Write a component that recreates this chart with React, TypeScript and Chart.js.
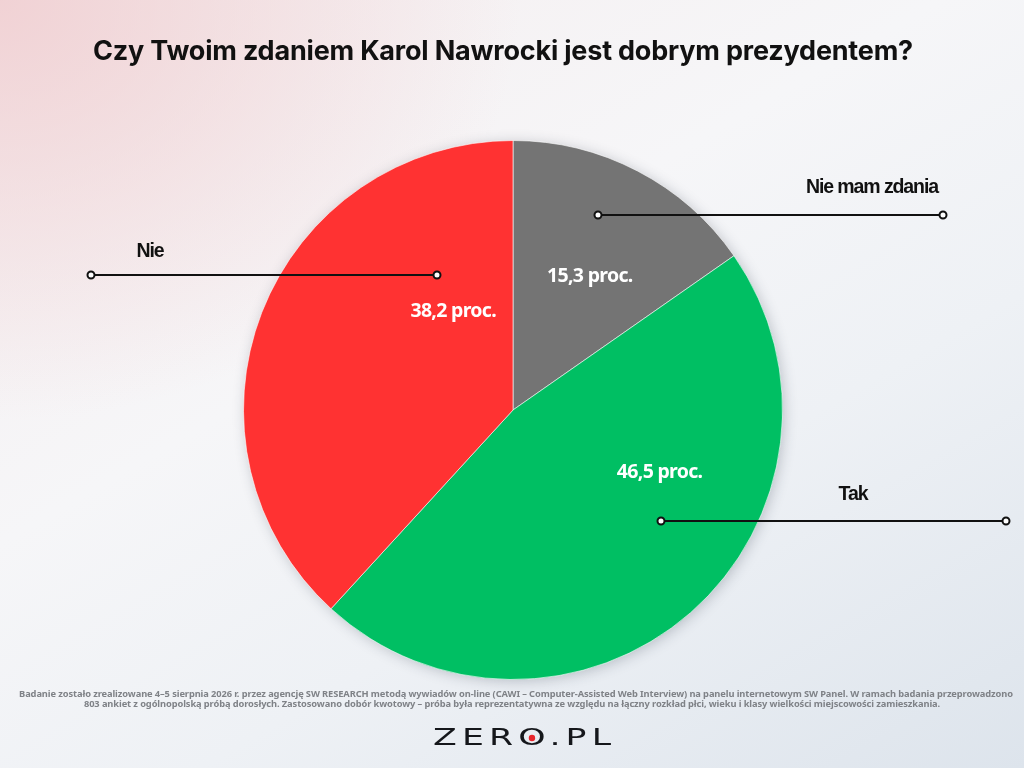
import React, { useEffect, useRef } from "react";
import { Chart, registerables } from "chart.js";

Chart.register(...registerables);

const title = "Czy Twoim zdaniem Karol Nawrocki jest dobrym prezydentem?";
const categories = ["Nie mam zdania", "Tak", "Nie"];
const values = [15.3, 46.5, 38.2];
const valueLabels = values.map((v) => v.toFixed(1).replace(".", ",") + " proc.");
const colors = ["#747474", "#00BF63", "#FF3232"];
const footerLines = [
  "Badanie zostało zrealizowane 4–5 sierpnia 2026 r. przez agencję SW RESEARCH metodą wywiadów on-line (CAWI – Computer-Assisted Web Interview) na panelu internetowym SW Panel. W ramach badania przeprowadzono",
  "803 ankiet z ogólnopolską próbą dorosłych. Zastosowano dobór kwotowy – próba była reprezentatywna ze względu na łączny rozkład płci, wieku i klasy wielkości miejscowości zamieszkania.",
];

// layout (style) config: offsets relative to pie centre
const valueLabelPos = [
  { x: 0.285, y: -0.496 },
  { x: 0.544, y: 0.23 },
  { x: -0.222, y: -0.367 },
];
const leaders = [
  { x1: 85, x2: 430, y: -195, lx: 359, ly: -222 },
  { x1: 148, x2: 493, y: 111, lx: 340, ly: 85 },
  { x1: -422, x2: -76, y: -135, lx: -363, ly: -158 },
];

const overlayPlugin = {
  id: "overlay",
  beforeDatasetsDraw(chart: any) {
    const meta = chart.getDatasetMeta(0);
    const arc = meta.data[0];
    if (!arc) return;
    const { x, y, outerRadius } = arc.getProps(["x", "y", "outerRadius"], true);
    const ctx = chart.ctx;
    ctx.save();
    ctx.shadowColor = "rgba(40,50,70,0.28)";
    ctx.shadowBlur = 14;
    ctx.shadowOffsetX = 2;
    ctx.shadowOffsetY = 2;
    ctx.beginPath();
    ctx.arc(x, y, outerRadius - 1, 0, Math.PI * 2);
    ctx.fillStyle = "#888";
    ctx.fill();
    ctx.restore();
  },
  afterDraw(chart: any) {
    const ctx = chart.ctx as CanvasRenderingContext2D;
    const meta = chart.getDatasetMeta(0);
    const arc = meta.data[0];
    if (!arc) return;
    const { x: cx, y: cy, outerRadius: R } = arc.getProps(["x", "y", "outerRadius"], true);
    const W = chart.width;

    ctx.save();
    // title
    ctx.fillStyle = "#111111";
    ctx.textAlign = "center";
    ctx.textBaseline = "middle";
    ctx.font = "700 27px Inter, 'Noto Sans', sans-serif";
    (ctx as any).letterSpacing = "-0.2px";
    ctx.fillText(title, 503, 52);

    // value labels
    ctx.fillStyle = "#ffffff";
    ctx.font = "700 19.5px 'Noto Sans', Inter, sans-serif";
    (ctx as any).letterSpacing = "-0.7px";
    valueLabels.forEach((t, i) => {
      const p = valueLabelPos[i];
      ctx.fillText(t, cx + p.x * R, cy + p.y * R);
    });

    // leader lines and category labels
    leaders.forEach((l, i) => {
      const y = cy + l.y;
      ctx.beginPath();
      ctx.moveTo(cx + l.x1, y);
      ctx.lineTo(cx + l.x2, y);
      ctx.strokeStyle = "#111111";
      ctx.lineWidth = 2;
      ctx.stroke();
      [l.x1, l.x2].forEach((xx) => {
        ctx.beginPath();
        ctx.arc(cx + xx, y, 3.5, 0, Math.PI * 2);
        ctx.fillStyle = "#ffffff";
        ctx.fill();
        ctx.lineWidth = 2;
        ctx.stroke();
      });
      ctx.fillStyle = "#111111";
      ctx.font = "700 19.5px 'Liberation Sans', Arial, sans-serif";
      (ctx as any).letterSpacing = "-1.1px";
      ctx.fillText(categories[i], cx + l.lx, cy + l.ly);
    });

    // footer
    ctx.fillStyle = "#7f8287";
    ctx.font = "700 9.3px 'Noto Sans', sans-serif";
    (ctx as any).letterSpacing = "-0.1px";
    footerLines.forEach((t, i) => {
      ctx.fillText(t, W / 2 + (i === 0 ? 4 : 0), 694 + i * 10);
    });

    // logo
    ctx.textAlign = "left";
    (ctx as any).letterSpacing = "4px";
    ctx.font = "400 27px 'DejaVu Sans', sans-serif";
    ctx.fillStyle = "#15171b";
    const logo = "ZERO.PL";
    const lw = ctx.measureText(logo).width - 4;
    const sx = 178 / lw;
    const left = 433;
    const wZER = ctx.measureText("ZER").width;
    const wO = ctx.measureText("O").width - 4;
    ctx.save();
    ctx.translate(left, 739);
    ctx.scale(sx, 0.82);
    ctx.fillText(logo, 0, 0);
    ctx.restore();
    ctx.beginPath();
    ctx.arc(left + (wZER + wO / 2) * sx, 738, 3.2, 0, Math.PI * 2);
    ctx.fillStyle = "#e8262c";
    ctx.fill();
    ctx.restore();
  },
};

export default function App() {
  const ref = useRef<HTMLCanvasElement | null>(null);
  useEffect(() => {
    if (!ref.current) return;
    const chart = new Chart(ref.current, {
      type: "pie",
      data: {
        labels: categories,
        datasets: [
          {
            data: values,
            backgroundColor: colors,
            borderColor: "rgba(255,255,255,0.6)",
            borderWidth: 1,
          },
        ],
      },
      options: {
        responsive: false,
        animation: false,
        layout: { padding: { top: 140, bottom: 88, left: 243, right: 241 } },
        plugins: {
          legend: { display: false },
          tooltip: { enabled: false },
          title: { display: false },
        },
      },
      plugins: [overlayPlugin],
    });
    return () => chart.destroy();
  }, []);
  return (
    <div
      style={{
        position: "fixed",
        left: 0,
        top: 0,
        width: 1024,
        height: 768,
        background:
          "radial-gradient(ellipse 520px 420px at 0% 0%, rgba(240,205,208,0.85), rgba(240,205,208,0) 100%), linear-gradient(150deg, #f5eeef 0%, #f6f6f8 40%, #eef1f5 65%, #dde4ec 100%)",
      }}
    >
      <canvas ref={ref} width={1024} height={768} style={{ width: 1024, height: 768, display: "block" }} />
    </div>
  );
}
